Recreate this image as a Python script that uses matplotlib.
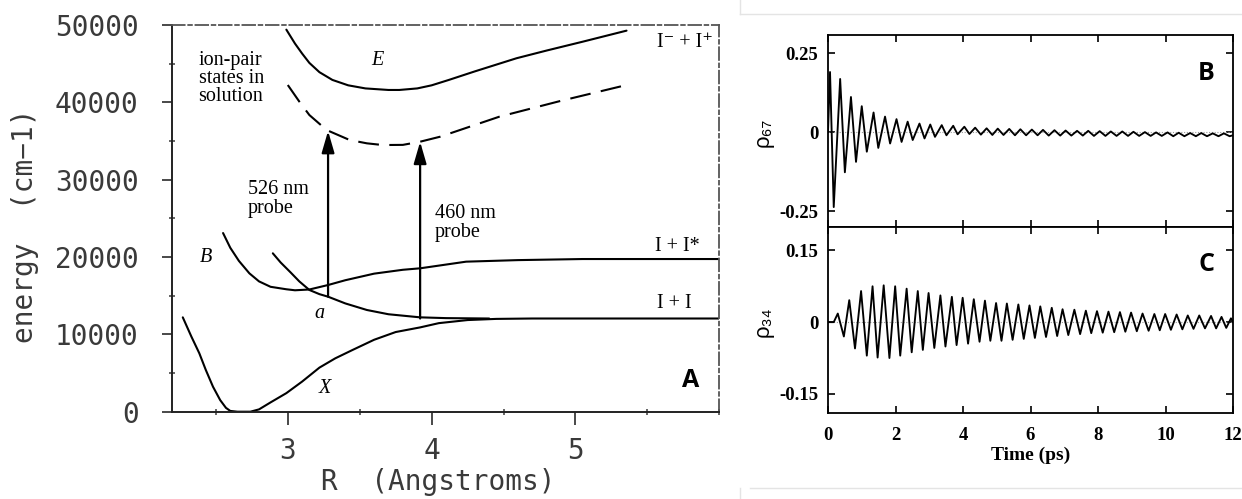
import numpy as np
import matplotlib.pyplot as plt
from matplotlib.lines import Line2D
from matplotlib.ticker import MultipleLocator

# ---- panel A: I2 potential curves (R in Angstrom, energy in cm-1)
x_r = [2.27, 2.33, 2.385, 2.43, 2.48, 2.53, 2.57, 2.60, 2.65, 2.74, 2.80, 2.88, 2.99, 3.10, 3.22, 3.33, 3.45,
       3.60, 3.75, 3.92, 4.05, 4.25, 4.45, 4.70, 6.00]
x_e = [12200, 9700, 7550, 5400, 3230, 1500, 500, 100, 0, 0, 300, 1200, 2400, 3900, 5700, 6900, 7980,
       9300, 10300, 10900, 11450, 11850, 12000, 12050, 12050]

a_r = [2.896, 2.95, 3.02, 3.08, 3.15, 3.22, 3.28, 3.40, 3.55, 3.70, 3.92, 4.10, 4.40]
a_e = [20480, 19300, 18000, 16850, 15740, 15200, 14870, 14000, 13150, 12600, 12200, 12100, 12050]

b_r = [2.55, 2.60, 2.66, 2.733, 2.80, 2.88, 2.99, 3.05, 3.15, 3.28, 3.40, 3.60, 3.80, 3.92, 4.24, 4.60, 5.05, 6.00]
b_e = [23100, 21200, 19500, 17890, 16850, 16150, 15830, 15700, 15800, 16380, 17000, 17850, 18350, 18540,
       19400, 19600, 19740, 19740]

e_r = [2.99, 3.05, 3.10, 3.15, 3.22, 3.31, 3.42, 3.54, 3.70, 3.775, 3.90, 4.00, 4.12, 4.30, 4.59, 4.80, 5.05, 5.355]
e_e = [49400, 47600, 46300, 45100, 43900, 42900, 42200, 41800, 41600, 41600, 41800, 42200, 42900, 44000,
       45700, 46700, 47840, 49270]

sol_r = [3.00, 3.08, 3.15, 3.27, 3.43, 3.55, 3.66, 3.80, 3.92, 4.06, 4.47, 4.90, 5.355]
sol_e = [42240, 40100, 38360, 36420, 35130, 34700, 34480, 34500, 34910, 35560, 38140, 40200, 42240]

probe_r = [3.28, 3.92]
probe_lo = [14870, 12050]
probe_hi = [36300, 34900]

# ---- panels B and C: coherences vs time (ps), extrema
b_t = [0.00, 0.06, 0.17, 0.36, 0.50, 0.68, 0.83, 1.00, 1.15, 1.35, 1.49, 1.69, 1.84, 2.03, 2.18, 2.36, 2.51,
       2.71, 2.86, 3.03, 3.17, 3.37, 3.51, 3.71, 3.84, 4.04, 4.19, 4.36, 4.53, 4.70, 4.87, 5.03, 5.20, 5.37,
       5.54, 5.70, 5.87, 6.04, 6.21, 6.37, 6.54, 6.71, 6.88, 7.04, 7.21, 7.38, 7.55, 7.71, 7.88, 8.05, 8.22,
       8.38, 8.55, 8.72, 8.89, 9.05, 9.22, 9.39, 9.56, 9.72, 9.89, 10.06, 10.23, 10.39, 10.56, 10.73, 10.90,
       11.06, 11.23, 11.40, 11.57, 11.73, 11.90, 12.00]
b_v = [0.000, 0.190, -0.237, 0.168, -0.127, 0.111, -0.094, 0.082, -0.062, 0.062, -0.050, 0.049, -0.036,
       0.041, -0.031, 0.033, -0.025, 0.027, -0.020, 0.024, -0.015, 0.022, -0.010, 0.020, -0.007, 0.017,
       -0.006, 0.014, -0.008, 0.012, -0.009, 0.011, -0.009, 0.010, -0.010, 0.009, -0.010, 0.008, -0.010,
       0.007, -0.011, 0.006, -0.011, 0.005, -0.011, 0.004, -0.011, 0.004, -0.012, 0.003, -0.012, 0.002,
       -0.012, 0.002, -0.012, 0.001, -0.012, 0.000, -0.012, -0.001, -0.012, -0.001, -0.013, -0.002, -0.013,
       -0.003, -0.013, -0.003, -0.013, -0.004, -0.013, -0.004, -0.013, -0.010]

c_t = [0.00, 0.17, 0.29, 0.47, 0.63, 0.80, 0.98, 1.15, 1.32, 1.47, 1.65, 1.82, 1.99, 2.14, 2.33, 2.48, 2.66,
       2.81, 2.98, 3.15, 3.33, 3.48, 3.67, 3.81, 3.99, 4.15, 4.32, 4.49, 4.65, 4.81, 4.98, 5.14, 5.30, 5.47,
       5.64, 5.80, 5.97, 6.13, 6.29, 6.46, 6.63, 6.79, 6.95, 7.12, 7.30, 7.47, 7.64, 7.80, 7.97, 8.14, 8.31,
       8.48, 8.65, 8.81, 8.98, 9.15, 9.32, 9.50, 9.67, 9.83, 9.99, 10.16, 10.33, 10.50, 10.66, 10.83, 11.00,
       11.17, 11.35, 11.50, 11.66, 11.80, 11.94, 12.00]
c_v = [0.000, 0.000, 0.018, -0.030, 0.046, -0.055, 0.065, -0.070, 0.075, -0.074, 0.077, -0.075, 0.075,
       -0.070, 0.070, -0.063, 0.065, -0.058, 0.061, -0.054, 0.056, -0.051, 0.053, -0.048, 0.051, -0.045,
       0.048, -0.041, 0.045, -0.039, 0.040, -0.039, 0.039, -0.037, 0.037, -0.035, 0.035, -0.033, 0.033,
       -0.031, 0.030, -0.029, 0.027, -0.027, 0.026, -0.025, 0.024, -0.023, 0.023, -0.022, 0.022, -0.021,
       0.021, -0.020, 0.020, -0.019, 0.018, -0.018, 0.017, -0.017, 0.017, -0.016, 0.016, -0.015, 0.014,
       -0.014, 0.014, -0.013, 0.013, -0.013, 0.011, -0.012, 0.008, 0.000]

W, H = 1242, 499
fig = plt.figure(figsize=(W / 100, H / 100), dpi=100)

serif = ['Liberation Serif', 'DejaVu Serif']
mono = 'DejaVu Sans Mono'
grey = '#3a3a3a'

# ================= panel A =================
axa = fig.add_axes([172 / W, 1 - 411.7 / H, 547.3 / W, 386.7 / H])
kw = dict(color='black', lw=1.5, solid_capstyle='round')
axa.plot(x_r, x_e, **kw)
axa.plot(a_r, a_e, **kw)
axa.plot(b_r, b_e, **kw)
axa.plot(e_r, e_e, **kw)
axa.plot(sol_r, sol_e, color='black', lw=1.5, linestyle=(0, (10, 5)))

for r, lo, hi in zip(probe_r, probe_lo, probe_hi):
    axa.annotate('', xy=(r, hi), xytext=(r, lo),
                 arrowprops=dict(arrowstyle='-|>,head_length=1.1,head_width=0.32', lw=1.6,
                                 color='black', mutation_scale=12, shrinkA=0, shrinkB=0))

axa.set_xlim(2.195, 6.0)
axa.set_ylim(0, 50000)
axa.set_xticks([3, 4, 5])
axa.xaxis.set_minor_locator(MultipleLocator(0.5))
axa.set_yticks([0, 10000, 20000, 30000, 40000, 50000])
axa.yaxis.set_minor_locator(MultipleLocator(5000))
axa.tick_params(axis='both', which='major', direction='out', length=7, width=1.3, colors=grey,
                labelsize=20)
axa.tick_params(axis='y', which='major', pad=17)
axa.tick_params(axis='x', which='major', pad=9, length=9)
axa.tick_params(axis='both', which='minor', direction='inout', length=5, width=1.1, color=grey)
for lab in axa.get_xticklabels() + axa.get_yticklabels():
    lab.set_fontfamily(mono)
for s in ['left', 'bottom']:
    axa.spines[s].set_linewidth(1.4)
    axa.spines[s].set_color('#222222')
for s in ['top', 'right']:
    axa.spines[s].set_linewidth(1.3)
    axa.spines[s].set_color('#555555')
    axa.spines[s].set_linestyle((0, (7, 2, 2, 2)))

fig.text(25 / W, 1 - 226 / H, 'energy  (cm\u22121)', rotation=90, ha='center', va='center',
         fontsize=20, family=mono, color=grey)
fig.text(438 / W, 1 - 482 / H, 'R  (Angstroms)', ha='center', va='center',
         fontsize=20, family=mono, color=grey)

tkw = dict(fontsize=14.5, family=serif, color='black')
axa.text(2.38, 46700, 'ion-pair\nstates in\nsolution', ha='left', va='top', linespacing=0.95, **tkw)
axa.text(3.625, 45460, 'E', ha='center', va='center', style='italic', **tkw)
axa.text(5.57, 47800, 'I\u207b + I\u207a', ha='left', va='center', **tkw)
axa.text(2.72, 27500, '526 nm\nprobe', ha='left', va='center', linespacing=0.95, **tkw)
axa.text(4.02, 24400, '460 nm\nprobe', ha='left', va='center', linespacing=0.95, **tkw)
axa.text(5.55, 21300, 'I + I*', ha='left', va='center', **tkw)
axa.text(5.565, 14050, 'I + I', ha='left', va='center', **tkw)
axa.text(2.43, 20000, 'B', ha='center', va='center', style='italic', **tkw)
axa.text(3.22, 12760, 'a', ha='center', va='center', style='italic', **tkw)
axa.text(3.255, 3060, 'X', ha='center', va='center', style='italic', **tkw)
axa.text(5.80, 3970, 'A', ha='center', va='center', fontsize=18, fontweight='bold',
         family=['Open Sans', 'DejaVu Sans'])

# ================= panels B and C =================
axb = fig.add_axes([828 / W, 1 - 227 / H, 405 / W, 192 / H])
axc = fig.add_axes([828 / W, 1 - 413 / H, 405 / W, 186 / H])

panels = [(axb, b_t, b_v, (-0.30, 0.307), [-0.25, 0, 0.25], ['-0.25', '0', '0.25'], 'ρ₆₇', 132, 'B'),
          (axc, c_t, c_v, (-0.19, 0.199), [-0.15, 0, 0.15], ['-0.15', '0', '0.15'], 'ρ₃₄', 322, 'C')]
for ax, t, v, ylim, yt, ytl, lab, ypix, letter in panels:
    ax.axhline(0, color='#999999', lw=0.8, linestyle=(0, (1, 1.5)))
    ax.plot(t, v, color='black', lw=1.35, solid_joinstyle='round')
    ax.set_xlim(0, 12)
    ax.set_ylim(*ylim)
    ax.set_yticks(yt)
    ax.set_yticklabels(ytl)
    ax.set_xticks([0, 2, 4, 6, 8, 10, 12])
    ax.tick_params(direction='in', length=5, width=1.2, top=True, right=True, labelsize=13.5, pad=7)
    for tl in ax.get_xticklabels() + ax.get_yticklabels():
        tl.set_fontfamily(serif)
        tl.set_fontweight('bold')
    for s in ax.spines.values():
        s.set_linewidth(1.3)
    fig.text(763 / W, 1 - ypix / H, lab, rotation=90, ha='center', va='center', fontsize=16,
             family=['Liberation Sans', 'DejaVu Sans'])
    ax.text(0.935, 0.80, letter, transform=ax.transAxes, ha='center', va='center', fontsize=18,
            fontweight='bold', family=['Open Sans', 'DejaVu Sans'])

axb.tick_params(labelbottom=False)
axc.tick_params(axis='x', pad=10)
axc.set_xlabel('Time (ps)', fontsize=14, fontweight='bold', family=serif, labelpad=2)

# light frame lines around the right-hand figure
for xs, ys in [([740 / W, 1], [1 - 14 / H] * 2), ([750 / W, 1], [1 - 488 / H] * 2),
               ([740 / W] * 2, [1, 1 - 14 / H]), ([740 / W] * 2, [0, 1 - 488 / H])]:
    fig.add_artist(Line2D(xs, ys, transform=fig.transFigure, color='#e4e4e4', lw=1))

fig.savefig('out.png', dpi=100)
